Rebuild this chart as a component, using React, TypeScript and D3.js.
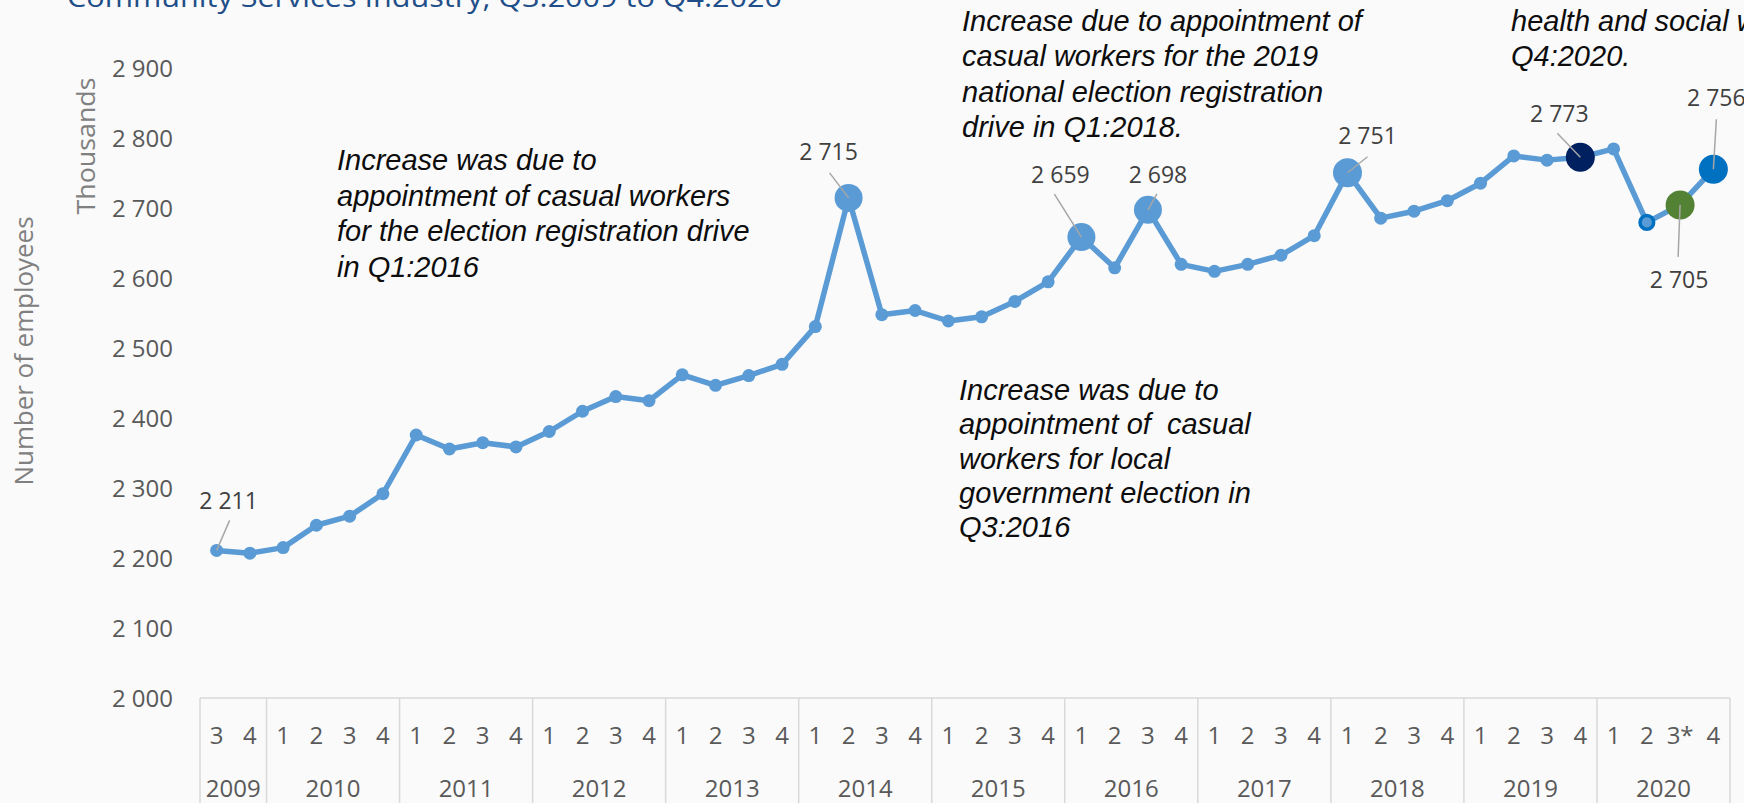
import React from "react";
import * as d3 from "d3";

const quarterLabels = [
  "3", "4",
  "1", "2", "3", "4", "1", "2", "3", "4", "1", "2", "3", "4", "1", "2", "3", "4",
  "1", "2", "3", "4", "1", "2", "3", "4", "1", "2", "3", "4", "1", "2", "3", "4",
  "1", "2", "3", "4", "1", "2", "3", "4", "1", "2", "3*", "4",
];
const yearLabels = ["2009", "2010", "2011", "2012", "2013", "2014", "2015", "2016", "2017", "2018", "2019", "2020"];
const yearQuarterCounts = [2, 4, 4, 4, 4, 4, 4, 4, 4, 4, 4, 4];
const employees = [
  2211, 2207,
  2215, 2247, 2260, 2292,
  2376, 2356, 2365, 2359,
  2381, 2410, 2431, 2425,
  2462, 2447, 2461, 2477,
  2531, 2715, 2548, 2554,
  2539, 2545, 2567, 2595,
  2659, 2615, 2698, 2620,
  2610, 2620, 2633, 2661,
  2751, 2686, 2696, 2711,
  2736, 2775, 2769, 2773,
  2785, 2680, 2705, 2756,
];
const yTicks = [2000, 2100, 2200, 2300, 2400, 2500, 2600, 2700, 2800, 2900];

// Points that carry data labels: index, label offset (dx, dy), leader start offset
const labelled = [
  { i: 0, dx: 12, dy: -50, lx: 13, ly: -30 },
  { i: 19, dx: -20, dy: -46, lx: -19, ly: -25 },
  { i: 26, dx: -21, dy: -62, lx: -27, ly: -43 },
  { i: 28, dx: 10, dy: -35, lx: 9, ly: -16 },
  { i: 34, dx: 20, dy: -37, lx: 20, ly: -16 },
  { i: 41, dx: -21, dy: -44, lx: -23, ly: -24 },
  { i: 44, dx: -1, dy: 75, lx: -2, ly: 52 },
  { i: 45, dx: 3, dy: -71, lx: 3, ly: -50 },
];

const specialMarkers: Record<number, { r: number; fill: string; stroke?: string; sw?: number }> = {
  19: { r: 14, fill: "#5B9BD5" },
  26: { r: 14, fill: "#5B9BD5" },
  28: { r: 14, fill: "#5B9BD5" },
  34: { r: 14.5, fill: "#5B9BD5" },
  41: { r: 14.5, fill: "#002060" },
  43: { r: 6.8, fill: "#5B9BD5", stroke: "#0070C0", sw: 3.5 },
  44: { r: 14.5, fill: "#548235" },
  45: { r: 14.5, fill: "#0070C0" },
};

const annotations = [
  { x: 337, y: 170, lh: 35.5, lines: ["Increase was due to", "appointment of casual workers", "for the election registration drive", "in Q1:2016"] },
  { x: 962, y: 31, lh: 35.3, lines: ["Increase due to appointment of", "casual workers for the 2019", "national election registration", "drive in Q1:2018."] },
  { x: 959, y: 400, lh: 34.3, lines: ["Increase was due to", "appointment of  casual", "workers for local", "government election in", "Q3:2016"] },
  { x: 1511, y: 30.7, lh: 35.3, lines: ["health and social work", "Q4:2020."] },
];

const W = 1744;
const H = 803;
const plotLeft = 200;
const plotRight = 1730;
const axisY = 698;

export default function App() {
  const idx = employees.map((_, i) => i);
  const x = d3.scaleBand<number>().domain(idx).range([plotLeft, plotRight]).padding(0);
  const bw = x.bandwidth();
  const cx = (i: number) => (x(i) as number) + bw / 2;
  const y = d3.scaleLinear().domain([2000, 2900]).range([axisY, 68.5]);

  const line = d3
    .line<number>()
    .x((_, i) => cx(i))
    .y((d) => y(d));

  const fmt = (v: number) => {
    const s = String(v);
    return s.length > 3 ? s.slice(0, s.length - 3) + " " + s.slice(-3) : s;
  };

  const boundaries: number[] = [0];
  yearQuarterCounts.reduce((acc, n) => {
    boundaries.push(acc + n);
    return acc + n;
  }, 0);
  const boundaryX = (k: number) => (k >= employees.length ? plotRight : (x(k) as number));

  const tickFont = "'Open Sans', sans-serif";
  const annFont = "'Liberation Sans', Arial, sans-serif";

  return (
    <svg
      width={W}
      height={H}
      style={{ position: "absolute", left: 0, top: 0, background: "#FAFAFA" }}
    >
      <rect x={0} y={0} width={W} height={H} fill="#FAFAFA" />
      <text
        x={67}
        y={7}
        fontFamily={tickFont}
        fontSize={28}
        fill="#1F4E89"
        textLength={715}
        lengthAdjust="spacingAndGlyphs"
      >
        Community Services Industry, Q3:2009 to Q4:2020
      </text>

      <text
        transform={`translate(33,351) rotate(-90)`}
        textAnchor="middle"
        fontFamily={tickFont}
        fontSize={25}
        fill="#808080"
        textLength={269}
        lengthAdjust="spacingAndGlyphs"
      >
        Number of employees
      </text>
      <text
        transform={`translate(95,146) rotate(-90)`}
        textAnchor="middle"
        fontFamily={tickFont}
        fontSize={25}
        fill="#808080"
        textLength={137}
        lengthAdjust="spacingAndGlyphs"
      >
        Thousands
      </text>

      {yTicks.map((t) => (
        <text
          key={t}
          x={173}
          y={y(t) + 8.6}
          textAnchor="end"
          fontFamily={tickFont}
          fontSize={24}
          fill="#595959"
        >
          {fmt(t)}
        </text>
      ))}

      <line x1={plotLeft} x2={plotRight} y1={axisY} y2={axisY} stroke="#D9D9D9" strokeWidth={1.5} />
      {boundaries.map((k) => (
        <line
          key={"b" + k}
          x1={boundaryX(k)}
          x2={boundaryX(k)}
          y1={axisY}
          y2={H}
          stroke="#D9D9D9"
          strokeWidth={1.5}
        />
      ))}
      {quarterLabels.map((q, i) => (
        <text
          key={"q" + i}
          x={cx(i)}
          y={735 + 8.6}
          textAnchor="middle"
          fontFamily={tickFont}
          fontSize={24}
          fill="#595959"
        >
          {q}
        </text>
      ))}
      {yearLabels.map((yr, k) => {
        const x0 = boundaryX(boundaries[k]);
        const x1 = boundaryX(boundaries[k + 1]);
        return (
          <text
            key={yr}
            x={(x0 + x1) / 2}
            y={788 + 8.6}
            textAnchor="middle"
            fontFamily={tickFont}
            fontSize={24}
            fill="#595959"
          >
            {yr}
          </text>
        );
      })}

      <path d={line(employees) || ""} fill="none" stroke="#5B9BD5" strokeWidth={5.5} strokeLinejoin="round" />

      {employees.map((v, i) => {
        const s = specialMarkers[i];
        if (s) {
          return (
            <circle
              key={"m" + i}
              cx={cx(i)}
              cy={y(v)}
              r={s.r}
              fill={s.fill}
              stroke={s.stroke || "none"}
              strokeWidth={s.sw || 0}
            />
          );
        }
        return <circle key={"m" + i} cx={cx(i)} cy={y(v)} r={6.5} fill="#5B9BD5" />;
      })}

      {labelled.map((l) => {
        const px = cx(l.i);
        const py = y(employees[l.i]);
        return (
          <g key={"l" + l.i}>
            <line x1={px + l.lx} y1={py + l.ly} x2={px} y2={py} stroke="#A6A6A6" strokeWidth={1.5} />
            <text
              x={px + l.dx}
              y={py + l.dy + 8.2}
              textAnchor="middle"
              fontFamily={tickFont}
              fontSize={23}
              fill="#404040"
            >
              {fmt(employees[l.i])}
            </text>
          </g>
        );
      })}

      {annotations.map((a, k) => (
        <text key={"a" + k} fontFamily={annFont} fontSize={29} fontStyle="italic" fill="#0D0D0D">
          {a.lines.map((ln, j) => (
            <tspan key={j} x={a.x} y={a.y + j * a.lh} style={{ whiteSpace: "pre" }}>
              {ln}
            </tspan>
          ))}
        </text>
      ))}
    </svg>
  );
}
